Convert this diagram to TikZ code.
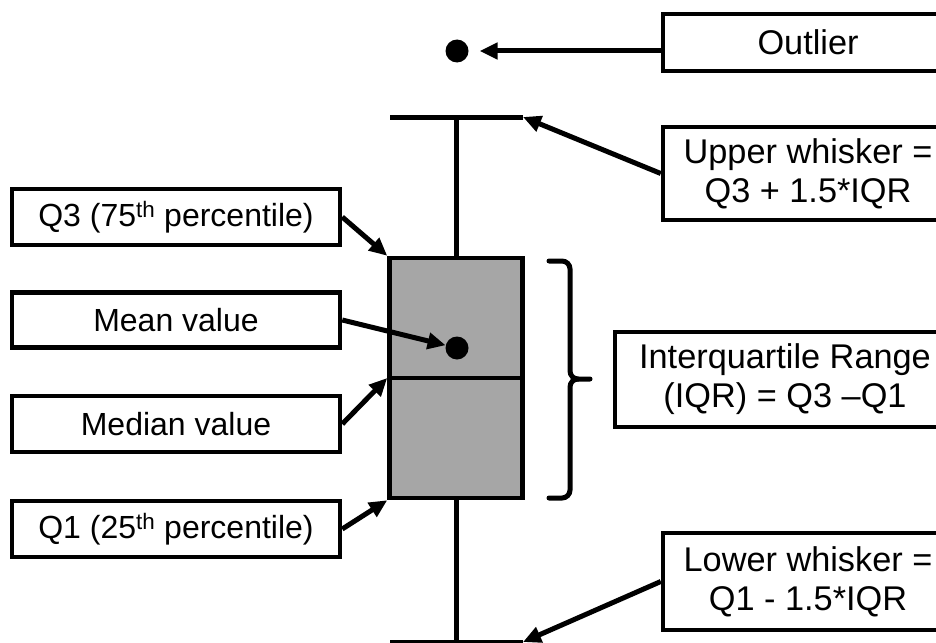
\documentclass[tikz,border=0pt]{standalone}
\usepackage{fontspec}
\setmainfont{Liberation Sans}
\usetikzlibrary{arrows.meta}
\definecolor{boxgray}{HTML}{A6A6A6}
\tikzset{
  label box/.style={draw=black, line width=4.5pt, fill=white, rectangle,
    inner sep=0pt, align=center,
    font=\fontsize{32}{37}\selectfont},
  big label/.style={font=\fontsize{34.3}{39}\selectfont},
  pointer/.style={line width=5pt, draw=black,
    -{Triangle[length=18pt,width=16pt]}},
  plot line/.style={line width=5pt, draw=black},
  dot/.style={circle, fill=black, inner sep=0pt, minimum size=23pt},
}
\begin{document}
\begin{tikzpicture}[x=1pt, y=-1pt]
  \useasboundingbox (0,0) rectangle (936,642);

  % whiskers and caps
  \coordinate (ucapL) at (390,117);
  \coordinate (ucapR) at (523,117);
  \coordinate (lcapL) at (390,642);
  \coordinate (lcapR) at (523,642);
  \coordinate (ucapM) at (456,117);
  \coordinate (lcapM) at (456,642);
  \draw[plot line] (ucapL) -- (ucapR);
  \draw[plot line] (lcapL) -- (lcapR);

  % the box (Q1 to Q3) with median line
  \node[draw=black, fill=boxgray, line width=4.5pt, rectangle, inner sep=0pt,
        minimum width=133pt, minimum height=240pt] (box) at (456,378) {};
  \draw[plot line] (ucapM) -- (box.north);
  \draw[plot line] (box.south) -- (lcapM);
  \draw[line width=4.5pt] (box.west) -- (box.east);

  % mean value and outlier points
  \node[dot] (mdot) at (457,348) {};
  \node[dot] (odot) at (457,51) {};

  % brace spanning the interquartile range
  \draw[line width=5pt, line cap=round]
    (549,261) -- (562,261) to[out=0,in=90] (570,269) -- (570,371)
    to[out=-90,in=180] (578,379) -- (590,379);
  \draw[line width=5pt, line cap=round]
    (549,498) -- (562,498) to[out=0,in=-90] (570,490) -- (570,387)
    to[out=90,in=180] (578,379);

  % label boxes on the left
  \node[label box, minimum width=328pt, minimum height=56pt] (q3) at (176,217)
    {Q3 (75\textsuperscript{th} percentile)};
  \node[label box, minimum width=328pt, minimum height=55pt] (mean) at (176,320)
    {Mean value};
  \node[label box, minimum width=328pt, minimum height=56pt] (median) at (176,424)
    {Median value};
  \node[label box, minimum width=328pt, minimum height=56pt] (q1) at (176,529)
    {Q1 (25\textsuperscript{th} percentile)};

  % label boxes on the right
  \node[label box, big label, minimum width=290pt, minimum height=57pt] (outlier) at (808,42.5)
    {Outlier};
  \node[label box, big label, minimum width=290pt, minimum height=93pt] (upper) at (808,173.5)
    {Upper whisker =\\Q3 + 1.5*IQR};
  \node[label box, big label, minimum width=340pt, minimum height=95pt] (iqr) at (785,379.5)
    {Interquartile Range\\(IQR) = Q3 --Q1};
  \node[label box, big label, minimum width=290pt, minimum height=97pt] (lower) at (808,581.5)
    {Lower whisker =\\Q1 - 1.5*IQR};

  % pointers
  \draw[pointer, shorten >=11pt] (outlier.west |- odot) -- (odot.east);
  \draw[pointer] (upper.west) -- (ucapR);
  \draw[pointer] (lower.west) -- (lcapR);
  \draw[pointer] (q3.east) -- (box.north west);
  \draw[pointer] (mean.east) -- (mdot);
  \draw[pointer] (median.east) -- (box.west);
  \draw[pointer] (q1.east) -- (box.south west);
\end{tikzpicture}
\end{document}
